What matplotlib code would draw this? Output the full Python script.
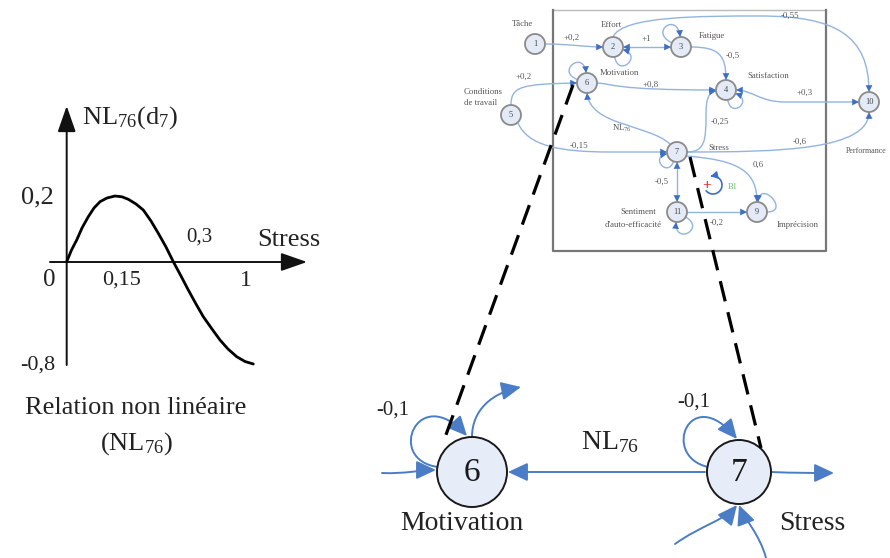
import numpy as np
import matplotlib
matplotlib.use('Agg')
import matplotlib.pyplot as plt
from matplotlib.path import Path
from matplotlib.patches import FancyArrowPatch, Circle

plt.rcParams['font.family'] = ['Liberation Serif', 'DejaVu Serif']
plt.rcParams['mathtext.fontset'] = 'custom'
plt.rcParams['mathtext.rm'] = 'Liberation Serif'
plt.rcParams['mathtext.it'] = 'Liberation Serif:italic'

# ---- left panel : NL76(d7) curve (pixel coords) ----
curve_x = [66.7, 71.5, 76.7, 82.0, 88.3, 94.0, 100, 107, 115, 122, 128.3, 136, 143.3,
           151, 158.3, 166, 173.3, 181, 188.3, 196, 203.3, 212, 220, 228, 236.7, 245, 253.3]
curve_y = [261.7, 250, 240, 228, 216.7, 208, 201.7, 198, 196, 196.8, 199.3, 204, 210,
           221, 233.3, 247, 261.7, 276, 290, 304, 316.7, 329, 340, 349, 356.7, 361.5, 364]
left_texts = ["0,2", "0", "0,15", "0,3", "1", "-0,8", "Stress"]
left_pos = [(37, 197), (49, 280), (122, 280), (199, 237), (246, 280), (38, 365), (289, 240)]
left_size = [19, 18, 16, 15, 17, 16, 19]

# ---- small network (top right) ----
small_nodes = ["1", "2", "3", "6", "4", "10", "5", "7", "11", "9"]
small_xy = [(535, 44), (613, 47), (681, 47), (587, 83), (726, 90), (869, 102),
            (511, 115), (677, 152), (677, 212), (757, 212)]
small_labels = ["Tâche", "Effort", "Fatigue", "-0,55", "+0,2", "+1", "-0,5", "Motivation",
                "Satisfaction", "+0,2", "Conditions", "de travail", "+0,8", "+0,3", "-0,25",
                r"NL$_{76}$", "-0,15", "Stress", "-0,6", "Performance", "0,6", "-0,5",
                "Sentiment", "d'auto-efficacité", "-0,2", "Imprécision"]
small_label_xy = [(522, 24), (611, 25), (712, 36), (790, 16), (572, 38), (646, 39), (733, 56),
                  (619, 73), (768, 76), (524, 77), (483, 92), (481, 103), (651, 85), (805, 93),
                  (720, 122), (622, 128), (579, 146), (719, 148), (800, 142), (846, 151),
                  (758, 165), (662, 182), (638, 212), (633, 225), (717, 223), (798, 225)]
small_label_ha = ["center"] * 19 + ["left"] + ["center"] * 6
small_label_size = [6.3] * 19 + [5.8] + [6.3] * 6

# edges as bezier control points (pixel coords)
small_edges = [
    [(545, 44), (570, 44), (585, 47), (603, 47)],                               # 1->2
    [(613, 37), (622, 16), (700, 16), (760, 16), (835, 16), (869, 35), (869, 92)],  # 2->10
    [(691, 47), (720, 47), (726, 56), (726, 80)],                               # 3->4
    [(511, 105), (511, 86), (522, 84), (577, 83)],                              # 5->6
    [(597, 83), (615, 84), (612, 90), (716, 90)],                               # 6->4
    [(518, 123), (528, 146), (560, 152), (610, 152), (630, 152), (650, 152), (667, 152)],  # 5->7
    [(670, 144), (648, 124), (590, 126), (587, 93)],                            # 7->6 NL76
    [(687, 152), (705, 152), (706, 140), (706, 115), (706, 100), (708, 92), (716, 91)],  # 7->4
    [(687, 152), (780, 152), (869, 150), (869, 112)],                           # 7->10
    [(686, 156), (740, 160), (757, 172), (757, 202)],                           # 7->9
    [(687, 212), (747, 212)],                                                   # 11->9
]
small_double = [
    [(623, 47), (671, 47)],                                                     # 2<->3
    [(736, 90), (752, 90), (760, 102), (785, 102), (810, 102), (835, 102), (859, 102)],  # 4<->10
    [(677, 162), (677, 202)],                                                   # 7<->11
]
# self loops: node, start angle, end angle, reach
small_loops = [("3", 155, 95, 26), ("2", -80, -15, 22), ("6", 160, 95, 24),
               ("4", -80, -20, 20), ("7", 250, 190, 18), ("11", -30, -95, 24),
               ("9", 0, 85, 24)]

# ---- enlarged detail (bottom right) ----
big_nodes = ["6", "7"]
big_xy = [(472, 472), (739, 472)]
big_r = [35, 32]
big_names = ["Motivation", "Stress"]
big_name_xy = [(462, 523), (812, 523)]
big_edges = [
    [(705, 472), (508, 472)],                                   # 7->6
    [(382, 473), (405, 474), (420, 470), (436, 470)],            # in -> 6
    [(438, 467), (385, 460), (418, 382), (467, 436)],            # 6 loop
    [(472, 437), (472, 410), (492, 393), (521, 387)],            # 6 -> out
    [(708, 467), (660, 456), (690, 382), (737, 439)],            # 7 loop
    [(771, 472), (795, 473), (810, 473), (834, 473)],            # 7 -> out
    [(675, 544), (700, 526), (725, 520), (737, 505)],            # in -> 7
    [(766, 558), (760, 535), (744, 518), (739, 505)],            # in -> 7
]
dash_lines = [[(573, 85), (443, 443)], [(690, 157), (761, 448)]]

LIGHT = '#93b4df'
DARK = '#3d70c2'
BLUE = '#4a7dc6'


def make_path(pts):
    if len(pts) == 2:
        codes = [Path.MOVETO, Path.LINETO]
    else:
        codes = [Path.MOVETO] + [Path.CURVE4] * (len(pts) - 1)
    return Path(pts, codes)


def arrow(ax, pts, style, color, lw, ms, head_color=None, z=3):
    p = make_path(pts)
    if head_color is None:
        ax.add_patch(FancyArrowPatch(path=p, arrowstyle=style, mutation_scale=ms,
                                     color=color, lw=lw, zorder=z))
    else:
        ax.add_patch(FancyArrowPatch(path=p, arrowstyle='-', color=color, lw=lw, zorder=z))
        ax.add_patch(FancyArrowPatch(path=p, arrowstyle=style, mutation_scale=ms,
                                     color=head_color, lw=0, zorder=z + 0.1))


def loop_pts(c, r, a1, a2, ext):
    a1, a2 = np.radians(a1), np.radians(a2)
    p0 = (c[0] + r * np.cos(a1), c[1] - r * np.sin(a1))
    p3 = (c[0] + r * np.cos(a2), c[1] - r * np.sin(a2))
    c1 = (p0[0] + ext * np.cos(a1), p0[1] - ext * np.sin(a1))
    c2 = (p3[0] + ext * np.cos(a2), p3[1] - ext * np.sin(a2))
    return [p0, c1, c2, p3]


fig = plt.figure(figsize=(8.9, 5.58), dpi=100)
ax = fig.add_axes([0, 0, 1, 1])
ax.set_xlim(0, 890)
ax.set_ylim(558, 0)
ax.axis('off')

# ---------------- left panel ----------------
ax.add_patch(FancyArrowPatch((66.7, 365), (66.7, 106), arrowstyle='-|>,head_length=0.8,head_width=0.28',
                             mutation_scale=20, color='#111', lw=1.4, shrinkA=0, shrinkB=0))
ax.add_patch(FancyArrowPatch((50, 262), (307, 262), arrowstyle='-|>,head_length=0.8,head_width=0.28',
                             mutation_scale=20, color='#111', lw=1.4, shrinkA=0, shrinkB=0))
ax.plot(curve_x, curve_y, color='black', lw=2.0, solid_capstyle='round')
for t, (x, y), s in zip(left_texts, left_pos, left_size):
    ax.text(x, y, t, fontsize=s, ha='center', va='center', color='#222')
ax.text(82, 118, r"NL$_{76}$(d$_7$)", fontsize=19, ha='left', va='center', color='#222')
ax.text(136, 408, "Relation non linéaire", fontsize=19, ha='center', va='center', color='#222')
ax.text(136, 444, r"(NL$_{76}$)", fontsize=19, ha='center', va='center', color='#222')

# ---------------- small network ----------------
ax.plot([553, 826], [10, 10], color='#bbbbbb', lw=1.0)
ax.plot([553, 553, 826, 826], [10, 251, 251, 10], color='#777777', lw=1.6)
pos = dict(zip(small_nodes, small_xy))
for pts in small_edges:
    arrow(ax, pts, '-|>,head_length=0.7,head_width=0.35', LIGHT, 1.0, 7, head_color=DARK)
for pts in small_double:
    arrow(ax, pts, '<|-|>,head_length=0.7,head_width=0.35', LIGHT, 1.0, 7, head_color=DARK)
for n, a1, a2, e in small_loops:
    arrow(ax, loop_pts(pos[n], 10, a1, a2, e), '-|>,head_length=0.7,head_width=0.35',
          LIGHT, 1.0, 7, head_color=DARK)
for n, (x, y) in zip(small_nodes, small_xy):
    ax.add_patch(Circle((x, y), 10, facecolor='#e4ebf7', edgecolor='#8a8a8a', lw=1.3, zorder=5))
    ax.text(x, y, n, fontsize=6, ha='center', va='center', color='#444', zorder=6)
for t, (x, y), ha, s in zip(small_labels, small_label_xy, small_label_ha, small_label_size):
    ax.text(x, y, t, fontsize=s, ha=ha, va='center', color='#555', zorder=6)
# B1 reinforcing loop (arc running round clockwise on screen, head at top-left pointing left)
ang = np.radians(np.linspace(-140, 105, 40))
b1 = list(zip(713 + 9 * np.cos(ang), 185 - 9 * np.sin(ang)))
ax.add_patch(FancyArrowPatch(path=Path(b1), arrowstyle='-|>,head_length=0.6,head_width=0.35',
                             mutation_scale=6, color=DARK, lw=1.2, zorder=4))
ax.text(707, 186, "+", fontsize=11, fontweight='bold', ha='center', va='center', color='#e8262a')
ax.text(733, 187, "B1", fontsize=6, ha='center', va='center', color='#6cbf6c')

# ---------------- enlarged detail ----------------
for pts in big_edges:
    arrow(ax, pts, '-|>,head_length=0.6,head_width=0.28', BLUE, 1.4, 20)
for pts in dash_lines:
    (x0, y0), (x1, y1) = pts
    ax.plot([x0, x1], [y0, y1], color='black', lw=2.3, ls=(0, (6.5, 3.5)), zorder=8)
for n, (x, y), r in zip(big_nodes, big_xy, big_r):
    ax.add_patch(Circle((x, y), r, facecolor='#e6edf8', edgecolor='#1a1a1a', lw=1.4, zorder=5))
    ax.text(x, y + 1, n, fontsize=24, ha='center', va='center', color='#1a1a1a', zorder=6)
for t, (x, y) in zip(big_names, big_name_xy):
    ax.text(x, y, t, fontsize=20, ha='center', va='center', color='#222')
ax.text(393, 410, "-0,1", fontsize=15, ha='center', va='center', color='#222')
ax.text(694, 402, "-0,1", fontsize=15, ha='center', va='center', color='#222')
ax.text(610, 442, r"NL$_{76}$", fontsize=20, ha='center', va='center', color='#222')

fig.savefig('out.png', dpi=100)
